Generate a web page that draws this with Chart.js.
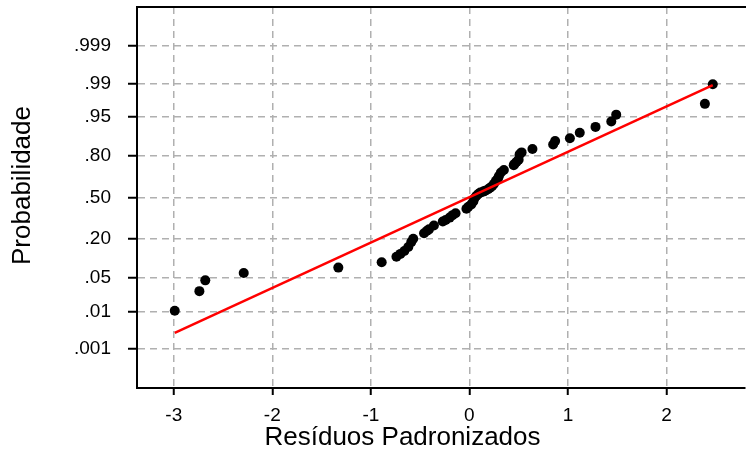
<!DOCTYPE html>
<html><head><meta charset="utf-8">
<script src="https://cdn.jsdelivr.net/npm/chart.js@4/dist/chart.umd.min.js"></script>
<style>html,body{margin:0;padding:0;background:#fff}#wrap{width:750px;height:453px;position:relative}</style>
</head><body><div id="wrap"><canvas id="c"></canvas></div>
<script>
// Standardized residuals (x) and their normal scores on the probability axis (y, probit units)
const residuals = [-2.99,-2.74,-2.68,-2.29,-1.33,-0.89,-0.74,-0.70,-0.66,-0.62,-0.59,-0.57,-0.46,-0.43,-0.41,-0.36,-0.27,-0.24,-0.20,-0.17,-0.14,-0.03,-0.01,0.02,0.04,0.05,0.07,0.09,0.11,0.14,0.16,0.19,0.21,0.23,0.25,0.27,0.29,0.30,0.32,0.35,0.45,0.46,0.48,0.50,0.51,0.53,0.64,0.85,0.87,1.02,1.12,1.28,1.44,1.49,2.39,2.47];
const normalScores = [-2.31,-1.91,-1.69,-1.54,-1.43,-1.32,-1.21,-1.15,-1.09,-1.01,-0.91,-0.84,-0.73,-0.68,-0.65,-0.57,-0.49,-0.46,-0.41,-0.36,-0.32,-0.23,-0.19,-0.14,-0.08,-0.02,0.03,0.07,0.10,0.12,0.14,0.17,0.20,0.23,0.28,0.34,0.39,0.44,0.51,0.56,0.66,0.69,0.73,0.77,0.88,0.92,0.99,1.08,1.15,1.21,1.32,1.44,1.55,1.69,1.91,2.31];
// Reference line endpoints
const fitResiduals = [-2.99, 2.47];
const fitScores = [-2.76, 2.29];
// Axis ticks
const probTickValues = [-3.09, -2.326, -1.645, -0.842, 0, 0.842, 1.645, 2.326, 3.09];
const probTickLabels = ['.001', '.01', '.05', '.20', '.50', '.80', '.95', '.99', '.999'];
const residTicks = [-3, -2, -1, 0, 1, 2];
const xTitle = 'Resíduos Padronizados';
const yTitle = 'Probabilidade';

const FONT = "'Liberation Sans', Arial, sans-serif";
const toXY = (xs, ys) => xs.map((x, i) => ({ x: x, y: ys[i] }));

// Axis titles (the source figure centres them on a wider, cropped frame)
const axisTitles = {
  id: 'axisTitles',
  afterDraw(chart) {
    const ctx = chart.ctx;
    ctx.save();
    ctx.fillStyle = '#000';
    ctx.font = '26px ' + FONT;
    ctx.textAlign = 'center';
    ctx.textBaseline = 'middle';
    ctx.fillText(xTitle, 402.5, 437.4);
    ctx.translate(22.6, 185.5);
    ctx.rotate(-Math.PI / 2);
    ctx.fillText(yTitle, 0, 0);
    ctx.restore();
  }
};

new Chart(document.getElementById('c'), {
  type: 'scatter',
  data: {
    datasets: [
      { data: toXY(fitResiduals, fitScores), showLine: true, borderColor: '#ff0000', borderWidth: 2.5,
        pointRadius: 0, pointHoverRadius: 0, fill: false },
      { data: toXY(residuals, normalScores), backgroundColor: '#000000', borderWidth: 0,
        pointRadius: 5, pointHoverRadius: 5 }
    ]
  },
  plugins: [axisTitles],
  options: {
    responsive: true, maintainAspectRatio: false, animation: false, devicePixelRatio: 1,
    events: [],
    layout: { padding: { top: 7, right: 0, left: 0, bottom: 0 } },
    plugins: { legend: { display: false }, tooltip: { enabled: false } },
    scales: {
      x: {
        type: 'linear', position: 'bottom', min: -3.373, max: 2.797,
        afterFit(s) { s.height = 65; s.paddingLeft = 0; s.paddingRight = 0; },
        afterBuildTicks(s) { s.ticks = residTicks.map(v => ({ value: v })); },
        ticks: { color: '#000', font: { family: FONT, size: 19 }, padding: 9, maxRotation: 0, autoSkip: false },
        grid: { color: '#b0b0b0', lineWidth: 1.5, tickColor: '#000', tickWidth: 2, tickLength: 7 },
        border: { color: '#000', width: 2, dash: [7, 5] },
        title: { display: false }
      },
      xTop: {
        type: 'linear', position: 'top', min: -3.373, max: 2.797,
        afterFit(s) { s.height = 0; s.paddingLeft = 0; s.paddingRight = 0; },
        ticks: { display: false },
        grid: { display: false, drawTicks: false },
        border: { display: true, color: '#000', width: 2 }
      },
      y: {
        type: 'linear', min: -3.886, max: 3.886,
        afterFit(s) { s.width = 137; s.paddingTop = 0; s.paddingBottom = 0; },
        afterBuildTicks(s) { s.ticks = probTickValues.map(v => ({ value: v })); },
        ticks: { color: '#000', font: { family: FONT, size: 19 }, padding: 17, autoSkip: false,
          callback: (v) => probTickLabels[probTickValues.indexOf(v)] },
        grid: { color: '#b0b0b0', lineWidth: 1.5, tickColor: '#000', tickWidth: 2, tickLength: 9 },
        border: { color: '#000', width: 2, dash: [7, 5] },
        title: { display: false }
      }
    }
  }
});
</script>
</body></html>
